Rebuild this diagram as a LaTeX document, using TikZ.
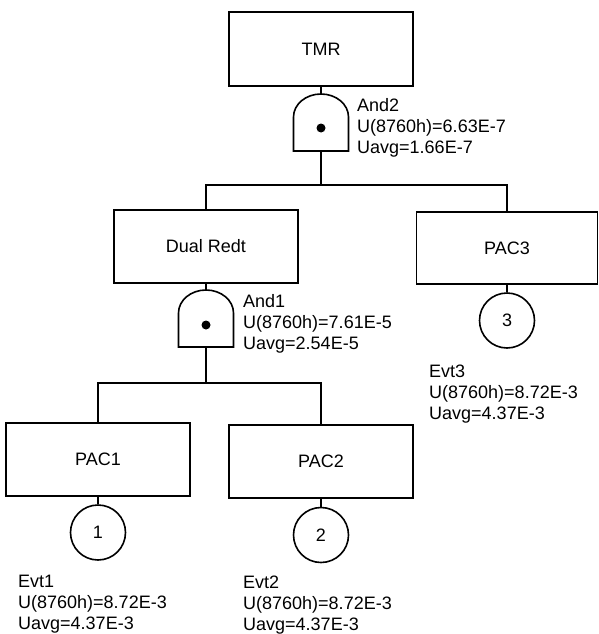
\documentclass[tikz,border=0pt]{standalone}
\usepackage{fontspec}
\setmainfont{Liberation Sans}

\begin{document}
\begin{tikzpicture}[x=1pt,y=-1pt,
        txt/.style={font=\fontsize{18}{21}\selectfont},
        event/.style={txt,draw,line width=1.6pt,minimum width=184pt,minimum height=73pt,inner sep=0pt},
        basic/.style={txt,draw,circle,line width=1.6pt,minimum size=55pt,inner sep=0pt},
        gatedot/.style={fill,circle,minimum size=9pt,inner sep=0pt},
        info/.style={txt,anchor=west,align=left,inner sep=0pt},
        wire/.style={line width=1.6pt}]
        \useasboundingbox (0,0) rectangle (598,634);

        \node[event,minimum height=74pt] (tmr) at (321,49) {TMR};
        \node[event] (dual) at (206,246.5) {Dual Redt};
        \node[event,minimum width=181pt,minimum height=72pt] (pac3) at (507,248) {PAC3};
        \node[event] (pac1) at (98,459.5) {PAC1};
        \node[event] (pac2) at (321,461.5) {PAC2};

        \node[basic] (evt1) at (98,532.5) {1};
        \node[basic] (evt2) at (321,535) {2};
        \node[basic] (evt3) at (507,320.5) {3};

        % and gates
        \draw[wire] (293.5,151) -- (293.5,117) arc[start angle=180,end angle=0,x radius=27.5pt,y radius=23pt] -- (348.5,151) -- cycle;
        \coordinate (and2top) at (321,94);
        \coordinate (and2bot) at (321,151);
        \node[gatedot] (dot2) at (321,128) {};
        \draw[wire] (178.5,347) -- (178.5,313) arc[start angle=180,end angle=0,x radius=27.5pt,y radius=23pt] -- (233.5,347) -- cycle;
        \coordinate (and1top) at (206,290);
        \coordinate (and1bot) at (206,347);
        \node[gatedot] (dot1) at (206,325) {};

        \coordinate (bar2) at (321,185);
        \coordinate (bar1) at (206,383);

        \draw[wire] (tmr.south) -- (and2top);
        \draw[wire] (and2bot) -- (bar2);
        \draw[wire] (dual.north) |- (bar2) -| (pac3.north);
        \draw[wire] (dual.south) -- (and1top);
        \draw[wire] (and1bot) -- (bar1);
        \draw[wire] (pac1.north) |- (bar1) -| (pac2.north);
        \draw[wire] (pac1.south) -- (evt1.north);
        \draw[wire] (pac2.south) -- (evt2.north);
        \draw[wire] (pac3.south) -- (evt3.north);

        \node[info] (lbl2) at (357,128) {And2\\U(8760h)=6.63E-7\\Uavg=1.66E-7};
        \node[info] (lbl1) at (243,324) {And1\\U(8760h)=7.61E-5\\Uavg=2.54E-5};
        \node[info] (lbl3) at (429,394) {Evt3\\U(8760h)=8.72E-3\\Uavg=4.37E-3};
        \node[info] (lble1) at (18,604) {Evt1\\U(8760h)=8.72E-3\\Uavg=4.37E-3};
        \node[info] (lble2) at (243,605) {Evt2\\U(8760h)=8.72E-3\\Uavg=4.37E-3};
\end{tikzpicture}
\end{document}
